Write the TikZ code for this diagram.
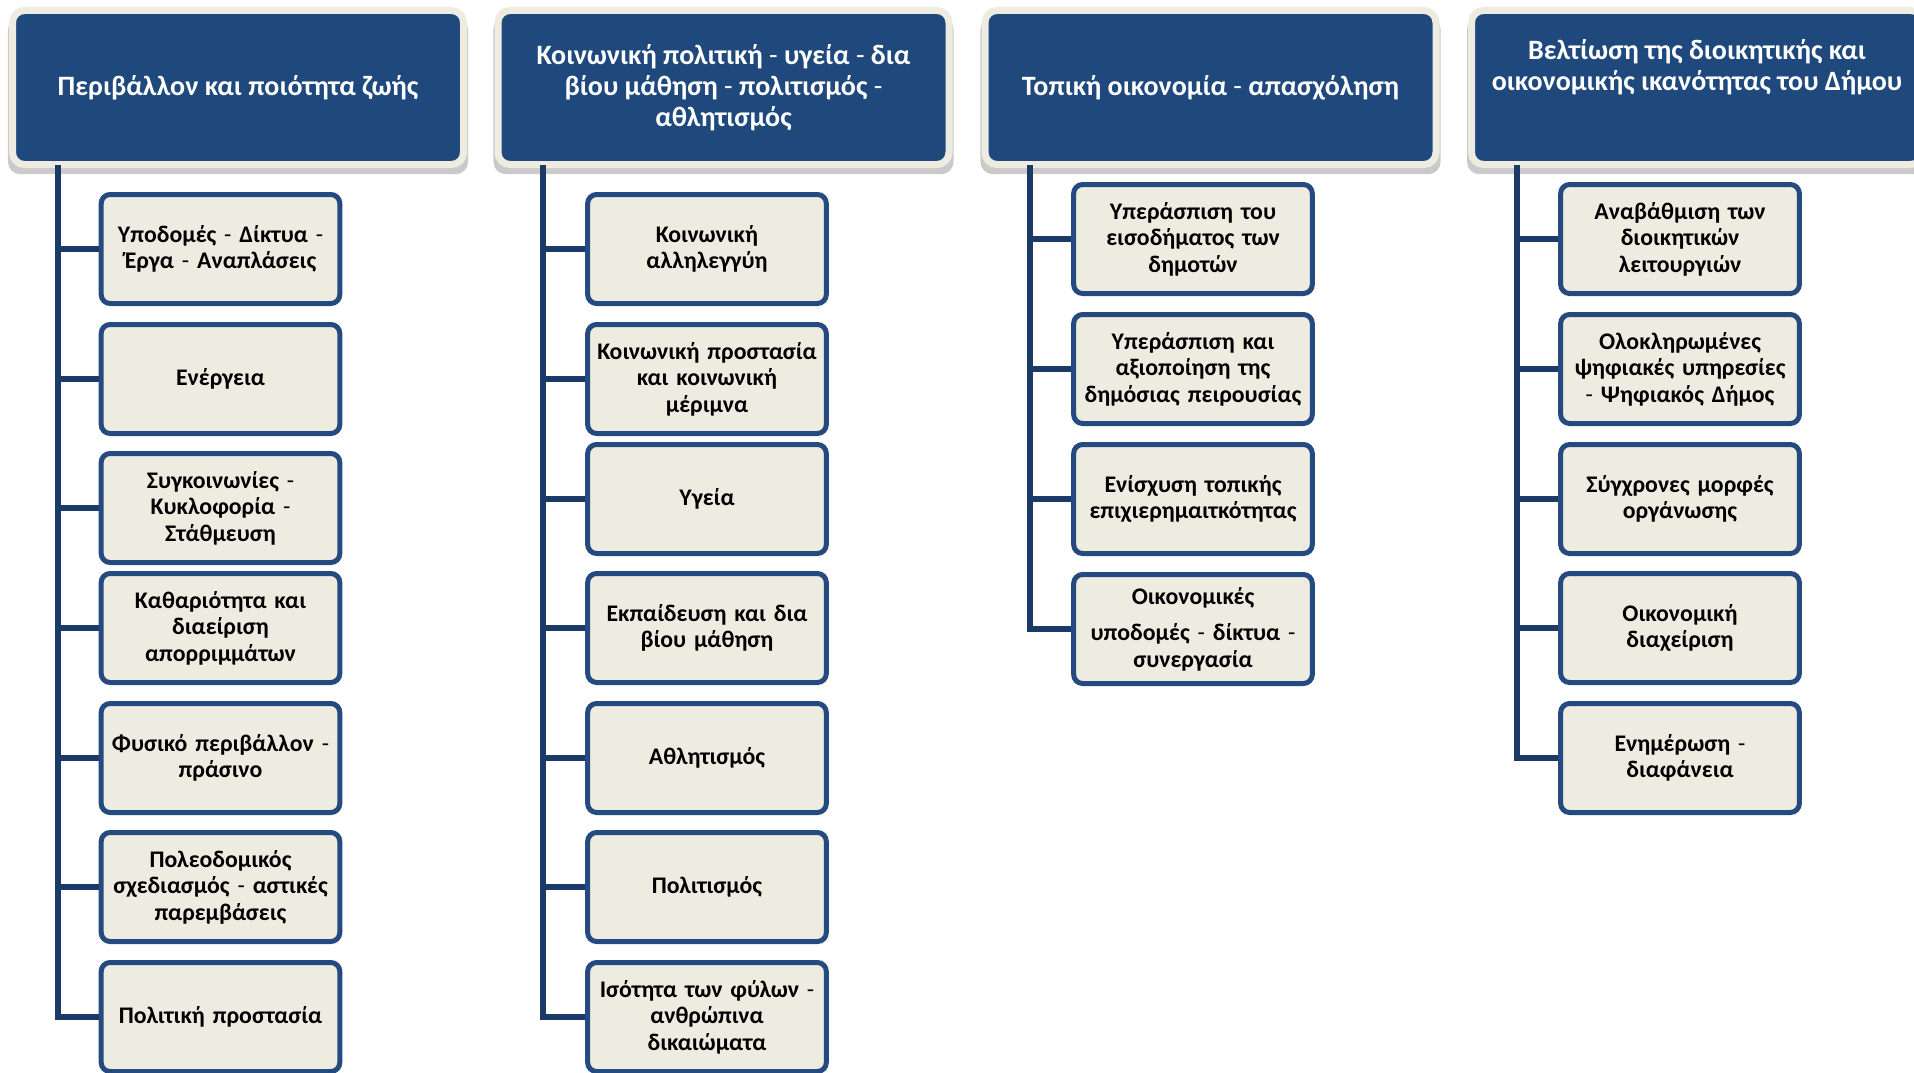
\documentclass[tikz,border=0pt]{standalone}
\usepackage{fontspec}
\setmainfont{Carlito}
\usetikzlibrary{shadows}
\definecolor{dmblue}{HTML}{1F497D}
\definecolor{dmcream}{HTML}{EEECE1}
\definecolor{dmnavy}{HTML}{1B3A66}
\definecolor{dmframe}{HTML}{254A7F}
\newcommand{\hy}{{\mdseries -}}

\begin{document}
\begin{tikzpicture}[x=1pt, y=-1pt,
    head/.style={fill=dmblue, draw=dmcream, line width=7pt, rounded corners=12pt,
      minimum width=451pt, minimum height=154pt,
      drop shadow={shadow xshift=0pt, shadow yshift=-8pt, shadow scale=1.02, opacity=0.35, fill=black!60}},
    headtext/.style={text=white, font=\fontsize{28}{31}\selectfont\bfseries, align=center},
    item/.style={fill=dmcream, draw=dmframe, line width=5pt, rounded corners=9pt,
      minimum width=235pt, minimum height=109pt, text width=232pt, align=center,
      font=\fontsize{23.8}{26.5}\selectfont\bfseries},
    branch/.style={draw=dmnavy, line width=5.5pt}]
  \useasboundingbox (0,0) rectangle (1914,1073);

  % headers
  \node[head] (h1) at (238,87.5) {};
  \node[head] (h2) at (723.5,87.5) {};
  \node[head] (h3) at (1210.5,87.5) {};
  \node[head] (h4) at (1697,87.5) {};
  \node[headtext] (h1t) at (h1) {Περιβάλλον και ποιότητα ζωής};
  \node[headtext] (h2t) at (h2) {Κοινωνική πολιτική \hy{} υγεία \hy{} δια\\βίου μάθηση \hy{} πολιτισμός \hy\\αθλητισμός};
  \node[headtext] (h3t) at (h3) {Τοπική οικονομία \hy{} απασχόληση};
  \node[headtext, yshift=20pt] (h4t) at (h4) {Βελτίωση της διοικητικής και\\οικονομικής ικανότητας του Δήμου};

  \coordinate (t1) at (58,165);
  \coordinate (t2) at (543,165);
  \coordinate (t3) at (1030,165);
  \coordinate (t4) at (1517,165);

  % columns
  \foreach \y/\t [count=\i] in {249/{Υποδομές \hy{} Δίκτυα \hy\\Έργα \hy{} Αναπλάσεις},
      379/{Ενέργεια},
      508/{Συγκοινωνίες \hy\\Κυκλοφορία \hy\\Στάθμευση},
      628/{Καθαριότητα και\\διαείριση\\απορριμμάτων},
      758/{Φυσικό περιβάλλον \hy\\πράσινο},
      887/{Πολεοδομικός\\σχεδιασμός \hy{} αστικές\\παρεμβάσεις},
      1017/{Πολιτική προστασία}}{
    \draw[branch] (t1) |- (220,\y);
    \node[item] (c1-\i) at (220.5,\y) {\t};
  }
  \foreach \y/\t [count=\i] in {249/{Κοινωνική\\αλληλεγγύη},
      379/{Κοινωνική προστασία\\και κοινωνική\\μέριμνα},
      499/{Υγεία},
      628/{Εκπαίδευση και δια\\βίου μάθηση},
      758/{Αθλητισμός},
      887/{Πολιτισμός},
      1017/{Ισότητα των φύλων \hy\\ανθρώπινα\\δικαιώματα}}{
    \draw[branch] (t2) |- (707,\y);
    \node[item] (c2-\i) at (707,\y) {\t};
  }
  \foreach \y/\t [count=\i] in {239/{Υπεράσπιση του\\εισοδήματος των\\δημοτών},
      369/{Υπεράσπιση και\\αξιοποίηση της\\δημόσιας πειρουσίας},
      499/{Ενίσχυση τοπικής\\επιχιερημαιτκότητας},
      629/{Οικονομικές\\[10pt]υποδομές \hy{} δίκτυα \hy\\συνεργασία}}{
    \draw[branch] (t3) |- (1193,\y);
    \node[item] (c3-\i) at (1193,\y) {\t};
  }
  \foreach \y/\t [count=\i] in {239/{Αναβάθμιση των\\διοικητικών\\λειτουργιών},
      369/{Ολοκληρωμένες\\ψηφιακές υπηρεσίες\\\hy{} Ψηφιακός Δήμος},
      499/{Σύγχρονες μορφές\\οργάνωσης},
      628/{Οικονομική\\διαχείριση},
      758/{Ενημέρωση \hy\\διαφάνεια}}{
    \draw[branch] (t4) |- (1680,\y);
    \node[item] (c4-\i) at (1680,\y) {\t};
  }
\end{tikzpicture}
\end{document}
